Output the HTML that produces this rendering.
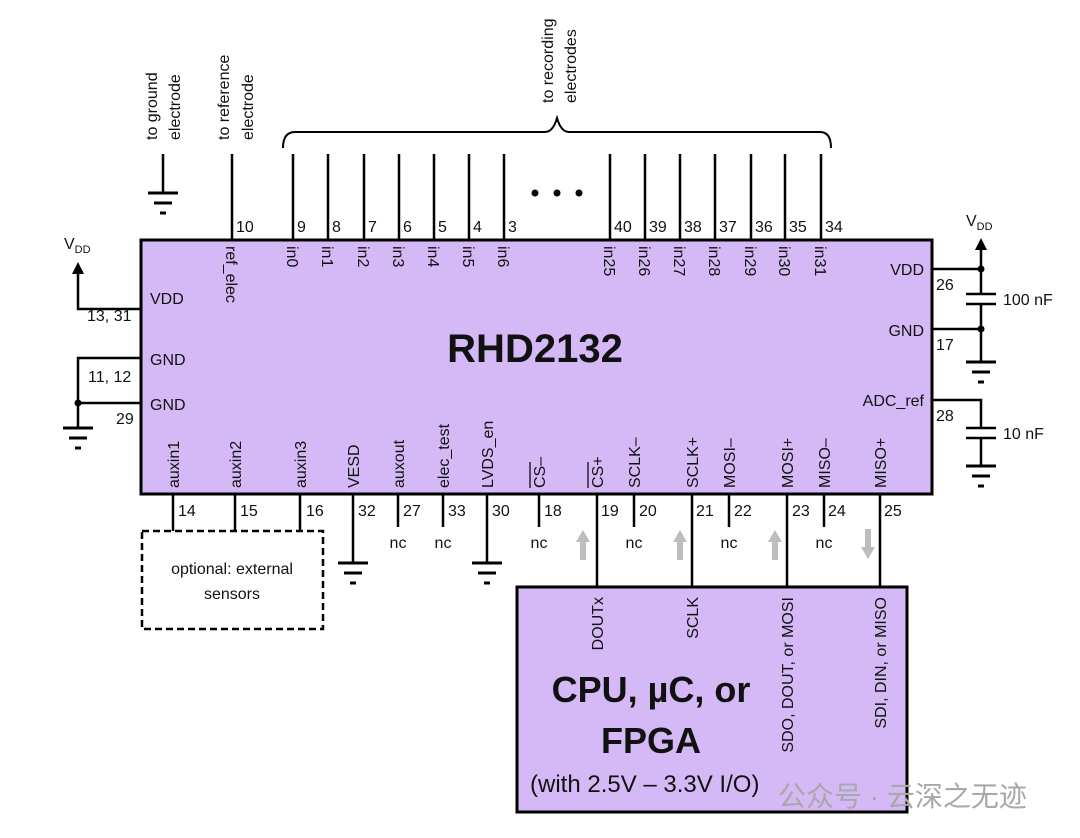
<!DOCTYPE html>
<html><head><meta charset="utf-8"><style>
html,body{margin:0;padding:0;background:#fff;}
svg{display:block;}
text{font-family:"Liberation Sans",Arial,sans-serif;fill:#111;}
</style></head><body>
<svg width="1080" height="838" viewBox="0 0 1080 838" xmlns="http://www.w3.org/2000/svg">
<defs>
<g id="gnd" stroke="#000" stroke-width="3"><line x1="-15" y1="0" x2="15" y2="0"/><line x1="-9" y1="10" x2="9" y2="10"/><line x1="-3" y1="20" x2="3" y2="20"/></g>
</defs>
<rect x="141" y="240" width="791" height="254" fill="#d5b9f6" stroke="#000" stroke-width="3"/>
<rect x="517" y="587" width="390" height="225" fill="#d5b9f6" stroke="#000" stroke-width="3"/>
<g stroke="#000" stroke-width="2.5" fill="none">
<line x1="163" y1="154" x2="163" y2="193"/>
<line x1="232" y1="154" x2="232" y2="240"/>
<line x1="293" y1="154" x2="293" y2="240"/>
<line x1="328" y1="154" x2="328" y2="240"/>
<line x1="364" y1="154" x2="364" y2="240"/>
<line x1="399" y1="154" x2="399" y2="240"/>
<line x1="434" y1="154" x2="434" y2="240"/>
<line x1="469" y1="154" x2="469" y2="240"/>
<line x1="504" y1="154" x2="504" y2="240"/>
<line x1="610" y1="154" x2="610" y2="240"/>
<line x1="645" y1="154" x2="645" y2="240"/>
<line x1="680" y1="154" x2="680" y2="240"/>
<line x1="715" y1="154" x2="715" y2="240"/>
<line x1="751" y1="154" x2="751" y2="240"/>
<line x1="785" y1="154" x2="785" y2="240"/>
<line x1="821" y1="154" x2="821" y2="240"/>
<path d="M283 148 Q283 132 295 132 L545 132 Q553 132 557 118 Q561 132 569 132 L820 132 Q831 132 831 148" stroke-width="2"/>
<polyline points="141,309 78,309 78,272"/>
<polyline points="141,358 78,358 78,403 141,403"/>
<line x1="78" y1="403" x2="78" y2="428"/>
<line x1="932" y1="269" x2="981" y2="269"/>
<line x1="981" y1="246" x2="981" y2="294"/>
<line x1="981" y1="304" x2="981" y2="362"/>
<line x1="932" y1="329" x2="981" y2="329"/>
<line x1="966" y1="294" x2="996" y2="294"/>
<line x1="966" y1="304" x2="996" y2="304"/>
<polyline points="932,400 981,400 981,428"/>
<line x1="966" y1="428" x2="996" y2="428"/>
<line x1="966" y1="438" x2="996" y2="438"/>
<line x1="981" y1="438" x2="981" y2="466"/>
<line x1="173" y1="494" x2="173" y2="531"/>
<line x1="235" y1="494" x2="235" y2="531"/>
<line x1="300" y1="494" x2="300" y2="531"/>
<line x1="353" y1="494" x2="353" y2="563"/>
<line x1="398" y1="494" x2="398" y2="527"/>
<line x1="443" y1="494" x2="443" y2="527"/>
<line x1="487" y1="494" x2="487" y2="563"/>
<line x1="539" y1="494" x2="539" y2="527"/>
<line x1="597" y1="494" x2="597" y2="587"/>
<line x1="634" y1="494" x2="634" y2="527"/>
<line x1="692" y1="494" x2="692" y2="587"/>
<line x1="729" y1="494" x2="729" y2="527"/>
<line x1="787" y1="494" x2="787" y2="587"/>
<line x1="824" y1="494" x2="824" y2="527"/>
<line x1="880" y1="494" x2="880" y2="587"/>
<rect x="142" y="531" width="181" height="98" stroke-dasharray="7,4" stroke-width="2.5"/>
</g>
<polygon points="78,262 72,274 84,274" fill="#000"/>
<polygon points="981,238 975,250 987,250" fill="#000"/>
<circle cx="78" cy="403" r="3.5" fill="#000"/>
<circle cx="981" cy="269" r="3.5" fill="#000"/>
<circle cx="981" cy="329" r="3.5" fill="#000"/>
<circle cx="535" cy="193" r="3.5" fill="#000"/><circle cx="557" cy="193" r="3.5" fill="#000"/><circle cx="579" cy="193" r="3.5" fill="#000"/>
<use href="#gnd" x="163" y="193"/>
<use href="#gnd" x="78" y="428"/>
<use href="#gnd" x="981" y="362"/>
<use href="#gnd" x="981" y="466"/>
<use href="#gnd" x="353" y="563"/>
<use href="#gnd" x="487" y="563"/>
<g fill="#bdbdbd">
<path d="M580 560 L580 542 L576 542 L583 530 L590 542 L586 542 L586 560Z"/>
<path d="M677 560 L677 542 L673 542 L680 530 L687 542 L683 542 L683 560Z"/>
<path d="M772 560 L772 542 L768 542 L775 530 L782 542 L778 542 L778 560Z"/>
<path d="M865 529 L865 547 L861 547 L868 559 L875 547 L871 547 L871 529Z"/>
</g>
<g font-size="16">
<text transform="translate(157,140) rotate(-90)">to ground</text>
<text transform="translate(180,140) rotate(-90)">electrode</text>
<text transform="translate(229,140) rotate(-90)">to reference</text>
<text transform="translate(253,140) rotate(-90)">electrode</text>
<text transform="translate(553,103) rotate(-90)">to recording</text>
<text transform="translate(576,103) rotate(-90)">electrodes</text>
</g>
<g font-size="16">
<text x="236" y="232">10</text><text x="297" y="232">9</text><text x="332" y="232">8</text><text x="368" y="232">7</text><text x="403" y="232">6</text><text x="438" y="232">5</text><text x="473" y="232">4</text><text x="508" y="232">3</text>
<text x="614" y="232">40</text><text x="649" y="232">39</text><text x="684" y="232">38</text><text x="719" y="232">37</text><text x="755" y="232">36</text><text x="789" y="232">35</text><text x="825" y="232">34</text>
</g>
<g font-size="16">
<text transform="translate(226,246) rotate(90)">ref_elec</text>
<text transform="translate(287,246) rotate(90)">in0</text>
<text transform="translate(322,246) rotate(90)">in1</text>
<text transform="translate(358,246) rotate(90)">in2</text>
<text transform="translate(393,246) rotate(90)">in3</text>
<text transform="translate(428,246) rotate(90)">in4</text>
<text transform="translate(463,246) rotate(90)">in5</text>
<text transform="translate(498,246) rotate(90)">in6</text>
<text transform="translate(604,246) rotate(90)">in25</text>
<text transform="translate(639,246) rotate(90)">in26</text>
<text transform="translate(674,246) rotate(90)">in27</text>
<text transform="translate(709,246) rotate(90)">in28</text>
<text transform="translate(745,246) rotate(90)">in29</text>
<text transform="translate(779,246) rotate(90)">in30</text>
<text transform="translate(815,246) rotate(90)">in31</text>
</g>
<g font-size="16">
<text x="64" y="249">V<tspan font-size="11" dy="4">DD</tspan></text>
<text x="966" y="226">V<tspan font-size="11" dy="4">DD</tspan></text>
<text x="150" y="304">VDD</text>
<text x="150" y="365">GND</text>
<text x="150" y="410">GND</text>
<text x="87" y="321">13, 31</text>
<text x="88" y="382">11, 12</text>
<text x="116" y="424">29</text>
<text x="924" y="275" text-anchor="end">VDD</text>
<text x="924" y="336" text-anchor="end">GND</text>
<text x="924" y="406" text-anchor="end">ADC_ref</text>
<text x="936" y="290">26</text>
<text x="936" y="350">17</text>
<text x="936" y="421">28</text>
<text x="1003" y="305">100 nF</text>
<text x="1003" y="439">10 nF</text>
</g>
<text x="535" y="362" font-size="40" font-weight="bold" text-anchor="middle">RHD2132</text>
<g font-size="16">
<text transform="translate(179,488) rotate(-90)">auxin1</text>
<text transform="translate(241,488) rotate(-90)">auxin2</text>
<text transform="translate(306,488) rotate(-90)">auxin3</text>
<text transform="translate(359,488) rotate(-90)">VESD</text>
<text transform="translate(404,488) rotate(-90)">auxout</text>
<text transform="translate(449,488) rotate(-90)">elec_test</text>
<text transform="translate(493,488) rotate(-90)">LVDS_en</text>
<text transform="translate(545,488) rotate(-90)">CS–</text>
<text transform="translate(603,488) rotate(-90)">CS+</text>
<text transform="translate(640,488) rotate(-90)">SCLK–</text>
<text transform="translate(698,488) rotate(-90)">SCLK+</text>
<text transform="translate(735,488) rotate(-90)">MOSI–</text>
<text transform="translate(793,488) rotate(-90)">MOSI+</text>
<text transform="translate(830,488) rotate(-90)">MISO–</text>
<text transform="translate(886,488) rotate(-90)">MISO+</text>
</g>
<line x1="530" y1="462" x2="530" y2="488" stroke="#000" stroke-width="1.2"/>
<line x1="588" y1="462" x2="588" y2="488" stroke="#000" stroke-width="1.2"/>
<g font-size="16">
<text x="178" y="516">14</text><text x="240" y="516">15</text><text x="306" y="516">16</text><text x="358" y="516">32</text><text x="403" y="516">27</text><text x="448" y="516">33</text><text x="492" y="516">30</text>
<text x="544" y="516">18</text><text x="601" y="516">19</text><text x="639" y="516">20</text><text x="696" y="516">21</text><text x="734" y="516">22</text><text x="792" y="516">23</text><text x="828" y="516">24</text><text x="884" y="516">25</text>
<text x="398" y="548" text-anchor="middle">nc</text><text x="443" y="548" text-anchor="middle">nc</text>
<text x="539" y="548" text-anchor="middle">nc</text><text x="634" y="548" text-anchor="middle">nc</text><text x="729" y="548" text-anchor="middle">nc</text><text x="824" y="548" text-anchor="middle">nc</text>
<text x="232" y="574" text-anchor="middle">optional: external</text>
<text x="232" y="599" text-anchor="middle">sensors</text>
</g>
<g font-size="16">
<text transform="translate(603,597) rotate(-90)" text-anchor="end">DOUTx</text>
<text transform="translate(698,597) rotate(-90)" text-anchor="end">SCLK</text>
<text transform="translate(793,597) rotate(-90)" text-anchor="end">SDO, DOUT, or MOSI</text>
<text transform="translate(886,597) rotate(-90)" text-anchor="end">SDI, DIN, or MISO</text>
</g>
<text x="651" y="702" font-size="36" font-weight="bold" text-anchor="middle">CPU, µC, or</text>
<text x="651" y="753" font-size="36" font-weight="bold" text-anchor="middle">FPGA</text>
<text x="530" y="792" font-size="24">(with 2.5V – 3.3V I/O)</text>
<text x="778" y="806" font-size="28" style="fill:#a8a8a8;font-family:'Liberation Sans','Noto Sans CJK SC',sans-serif">公众号 · 云深之无迹</text>
</svg>
</body></html>
